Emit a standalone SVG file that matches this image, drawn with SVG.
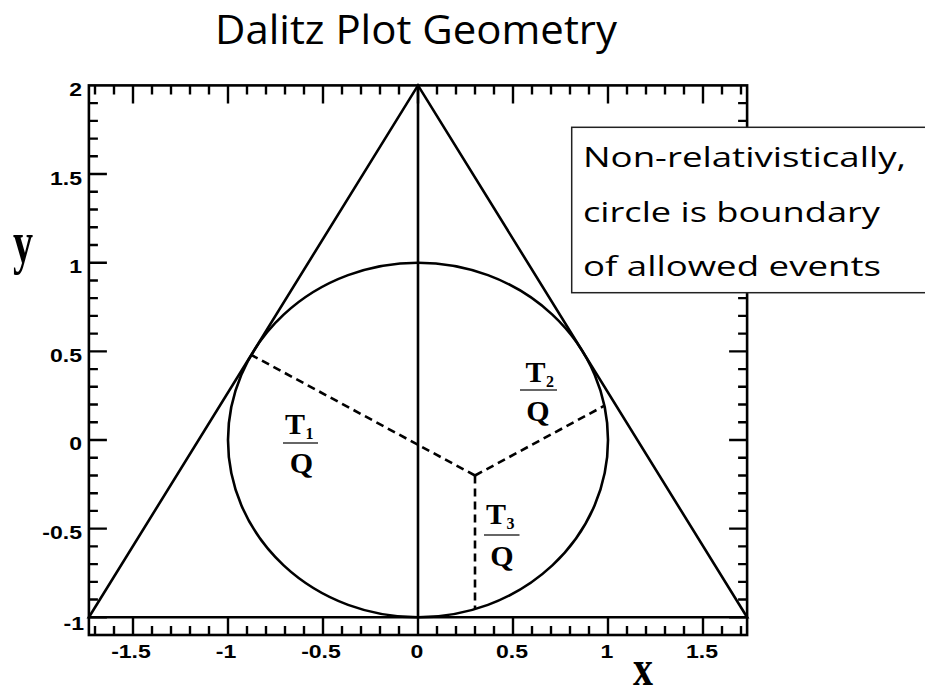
<svg xmlns="http://www.w3.org/2000/svg" width="925" height="690" viewBox="0 0 925 690">
<style>
.ln{fill:none;stroke:#000;stroke-width:2.6}
.tk{fill:none;stroke:#000;stroke-width:2.4}
.dash{fill:none;stroke:#000;stroke-width:2.6;stroke-dasharray:8 5}
.num{font-family:"Liberation Sans",Arial,sans-serif;font-weight:bold;font-size:18px;fill:#000}
.ax{font-family:"Liberation Serif","Times New Roman",serif;font-weight:bold;fill:#000}
.fr{font-family:"Liberation Serif","Times New Roman",serif;font-weight:bold;font-size:30px;fill:#000}
.sub{font-family:"Liberation Serif","Times New Roman",serif;font-weight:bold;font-size:16px;fill:#000}
.bar{stroke:#333;stroke-width:1.6}
.cal{font-family:"Open Sans","Noto Sans",sans-serif;fill:#000}
</style>
<rect width="925" height="690" fill="#fff"/>
<text class="cal" x="215" y="44" font-size="40" textLength="402" lengthAdjust="spacingAndGlyphs">Dalitz Plot Geometry</text>
<g id="frame">
<rect class="ln" x="88.9" y="85.4" width="658.2" height="549.6"/>
<path class="tk" d="M88.9 617.3h18M88.9 599.57h9M88.9 581.84h9M88.9 564.11h9M88.9 546.38h9M88.9 528.65h18M88.9 510.92h9M88.9 493.19h9M88.9 475.46h9M88.9 457.73h9M88.9 440h18M88.9 422.27h9M88.9 404.54h9M88.9 386.81h9M88.9 369.08h9M88.9 351.35h18M88.9 333.62h9M88.9 315.89h9M88.9 298.16h9M88.9 280.43h9M88.9 262.7h18M88.9 244.97h9M88.9 227.24h9M88.9 209.51h9M88.9 191.78h9M88.9 174.05h18M88.9 156.32h9M88.9 138.59h9M88.9 120.86h9M88.9 103.13h9"/>
<path class="tk" d="M747.1 617.3h-18M747.1 599.57h-9M747.1 581.84h-9M747.1 564.11h-9M747.1 546.38h-9M747.1 528.65h-18M747.1 510.92h-9M747.1 493.19h-9M747.1 475.46h-9M747.1 457.73h-9M747.1 440h-18M747.1 422.27h-9M747.1 404.54h-9M747.1 386.81h-9M747.1 369.08h-9M747.1 351.35h-18M747.1 333.62h-9M747.1 315.89h-9M747.1 298.16h-9M747.1 280.43h-9M747.1 262.7h-18M747.1 244.97h-9M747.1 227.24h-9M747.1 209.51h-9M747.1 191.78h-9M747.1 174.05h-18M747.1 156.32h-9M747.1 138.59h-9M747.1 120.86h-9M747.1 103.13h-9"/>
<path class="tk" d="M95 635v-9M114 635v-9M133 635v-18M152 635v-9M171 635v-9M190 635v-9M209 635v-9M228 635v-18M247 635v-9M266 635v-9M285 635v-9M304 635v-9M323 635v-18M342 635v-9M361 635v-9M380 635v-9M399 635v-9M418 635v-18M437 635v-9M456 635v-9M475 635v-9M494 635v-9M513 635v-18M532 635v-9M551 635v-9M570 635v-9M589 635v-9M608 635v-18M627 635v-9M646 635v-9M665 635v-9M684 635v-9M703 635v-18M722 635v-9M741 635v-9"/>
<path class="tk" d="M95 85.4v9M114 85.4v9M133 85.4v18M152 85.4v9M171 85.4v9M190 85.4v9M209 85.4v9M228 85.4v18M247 85.4v9M266 85.4v9M285 85.4v9M304 85.4v9M323 85.4v18M342 85.4v9M361 85.4v9M380 85.4v9M399 85.4v9M418 85.4v18M437 85.4v9M456 85.4v9M475 85.4v9M494 85.4v9M513 85.4v18M532 85.4v9M551 85.4v9M570 85.4v9M589 85.4v9M608 85.4v18M627 85.4v9M646 85.4v9M665 85.4v9M684 85.4v9M703 85.4v18M722 85.4v9M741 85.4v9"/>
</g>
<g id="y-labels" text-anchor="end">
<text class="num" x="82" y="96" textLength="12.8" lengthAdjust="spacingAndGlyphs">2</text>
<text class="num" x="82" y="185" textLength="32" lengthAdjust="spacingAndGlyphs">1.5</text>
<text class="num" x="82" y="273" textLength="12.8" lengthAdjust="spacingAndGlyphs">1</text>
<text class="num" x="82" y="362" textLength="32" lengthAdjust="spacingAndGlyphs">0.5</text>
<text class="num" x="82" y="450" textLength="12.8" lengthAdjust="spacingAndGlyphs">0</text>
<text class="num" x="82" y="539" textLength="39.7" lengthAdjust="spacingAndGlyphs">-0.5</text>
<text class="num" x="84" y="630" textLength="20.5" lengthAdjust="spacingAndGlyphs">-1</text>
</g>
<g id="x-labels" text-anchor="middle">
<text class="num" x="131" y="658" textLength="39.7" lengthAdjust="spacingAndGlyphs">-1.5</text>
<text class="num" x="226" y="658" textLength="20.5" lengthAdjust="spacingAndGlyphs">-1</text>
<text class="num" x="321" y="658" textLength="39.7" lengthAdjust="spacingAndGlyphs">-0.5</text>
<text class="num" x="417" y="658" textLength="12.8" lengthAdjust="spacingAndGlyphs">0</text>
<text class="num" x="512" y="658" textLength="32" lengthAdjust="spacingAndGlyphs">0.5</text>
<text class="num" x="607" y="658" textLength="12.8" lengthAdjust="spacingAndGlyphs">1</text>
<text class="num" x="702" y="658" textLength="32" lengthAdjust="spacingAndGlyphs">1.5</text>
</g>
<text class="ax" x="13" y="262" font-size="60" textLength="20" lengthAdjust="spacingAndGlyphs">y</text>
<text class="ax" x="633" y="685" font-size="50" textLength="20" lengthAdjust="spacingAndGlyphs">x</text>
<g id="triangle">
<path class="ln" d="M88.9 617.3L418 85.4L747.1 617.3Z"/>
<path class="ln" d="M418 85.4V617.3"/>
</g>
<g id="circle">
<ellipse class="ln" cx="418" cy="440" rx="190" ry="177.3"/>
</g>
<g id="connectors">
<path class="dash" d="M475 475.5L251.3 354.9"/>
<path class="dash" d="M475 475.5L604.4 405.7"/>
<path class="dash" d="M475 475.5V609.1"/>
</g>
<g id="label-T1">
<text class="fr" x="285" y="434">T</text>
<text class="sub" x="305.5" y="439">1</text>
<line class="bar" x1="283" y1="443" x2="318" y2="443"/>
<text class="fr" x="301.5" y="473" text-anchor="middle">Q</text>
</g>
<g id="label-T2">
<text class="fr" x="525.5" y="382">T</text>
<text class="sub" x="546" y="387">2</text>
<line class="bar" x1="520" y1="390" x2="557" y2="390"/>
<text class="fr" x="538" y="421" text-anchor="middle">Q</text>
</g>
<g id="label-T3">
<text class="fr" x="486" y="524">T</text>
<text class="sub" x="506.5" y="529">3</text>
<line class="bar" x1="484" y1="535" x2="519.5" y2="535"/>
<text class="fr" x="502" y="566" text-anchor="middle">Q</text>
</g>
<g id="note">
<rect x="571.7" y="127.3" width="370" height="165.4" fill="#fff" stroke="#222" stroke-width="1.5"/>
<text class="cal" x="583" y="167" font-size="27" textLength="323" lengthAdjust="spacingAndGlyphs">Non-relativistically,</text>
<text class="cal" x="583" y="221.5" font-size="27" textLength="297" lengthAdjust="spacingAndGlyphs">circle is boundary</text>
<text class="cal" x="583" y="276" font-size="27" textLength="298" lengthAdjust="spacingAndGlyphs">of allowed events</text>
</g>
</svg>
